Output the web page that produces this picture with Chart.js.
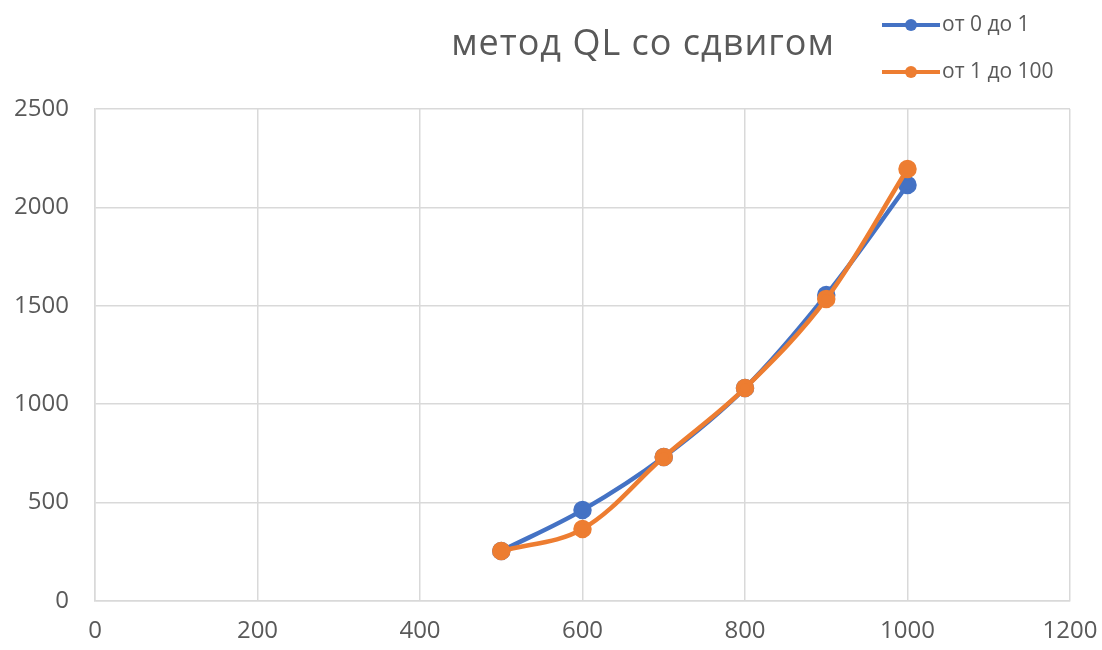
<!DOCTYPE html>
<html>
<head>
  <title>метод QL со сдвигом</title>
  <script src="https://cdn.jsdelivr.net/npm/chart.js"></script>
  <style>
    body { margin: 0; background: #ffffff; }
    #wrap { width: 1102px; height: 650px; position: relative; }
  </style>
</head>
<body>
  <div id="wrap"><canvas id="qlChart" width="1102" height="650"></canvas></div>
  <script>
    const sizes = [500, 600, 700, 800, 900, 1000];
    const range01 = [254, 462, 732, 1082, 1555, 2114];
    const range1to100 = [254, 366, 732, 1082, 1535, 2195];
    const seriesNames = ['от 0 до 1', 'от 1 до 100'];
    const chartTitle = 'метод QL со сдвигом';
    const xTicks = [0, 200, 400, 600, 800, 1000, 1200];
    const yTicks = [0, 500, 1000, 1500, 2000, 2500];

    const blue = '#4472C4';
    const orange = '#ED7D31';
    const grey = '#595959';

    function toPoints(xs, ys) {
      return xs.map((x, i) => ({ x: x, y: ys[i] }));
    }

    // title and stacked legend in the top right, like the Excel original
    const titleLegend = {
      id: 'titleLegend',
      afterDraw(chart) {
        const ctx = chart.ctx;
        ctx.save();
        ctx.fillStyle = grey;
        ctx.font = '36px "Open Sans", sans-serif';
        ctx.letterSpacing = '1px';
        ctx.textAlign = 'center';
        ctx.textBaseline = 'middle';
        ctx.fillText(chartTitle, 643, 45);
        ctx.letterSpacing = '0px';

        ctx.font = '21px "Open Sans", sans-serif';
        ctx.textAlign = 'left';
        chart.data.datasets.forEach((ds, i) => {
          const y = 25 + i * 47;
          ctx.strokeStyle = ds.borderColor;
          ctx.lineWidth = 4;
          ctx.beginPath();
          ctx.moveTo(882, y);
          ctx.lineTo(940, y);
          ctx.stroke();
          ctx.fillStyle = ds.backgroundColor;
          ctx.beginPath();
          ctx.arc(911, y, 6, 0, Math.PI * 2);
          ctx.fill();
          ctx.fillStyle = grey;
          ctx.fillText(ds.label, 942, y);
        });
        ctx.restore();
      }
    };

    new Chart(document.getElementById('qlChart'), {
      type: 'line',
      data: {
        datasets: [
          {
            label: seriesNames[0],
            data: toPoints(sizes, range01),
            borderColor: blue,
            backgroundColor: blue,
            borderWidth: 4.5,
            pointRadius: 7,
            tension: 0.35,
            order: 1
          },
          {
            label: seriesNames[1],
            data: toPoints(sizes, range1to100),
            borderColor: orange,
            backgroundColor: orange,
            borderWidth: 4.5,
            pointRadius: 7,
            tension: 0.35,
            order: 0
          }
        ]
      },
      options: {
        responsive: false,
        animation: false,
        layout: { padding: { top: 109, right: 32, left: 0, bottom: 0 } },
        plugins: {
          legend: { display: false },
          title: { display: false },
          tooltip: { enabled: false }
        },
        scales: {
          x: {
            type: 'linear',
            min: 0,
            max: 1200,
            afterBuildTicks: axis => { axis.ticks = xTicks.map(v => ({ value: v })); },
            grid: { color: '#d9d9d9', lineWidth: 1.5, drawTicks: false },
            border: { color: '#d9d9d9', width: 1.5 },
            ticks: {
              color: grey,
              font: { family: 'Open Sans', size: 24 },
              padding: 16,
              callback: v => String(v)
            },
            afterFit: axis => {
              axis.height = 49;
              axis.paddingLeft = 0;
              axis.paddingRight = 0;
            }
          },
          y: {
            min: 0,
            max: 2500,
            afterBuildTicks: axis => { axis.ticks = yTicks.map(v => ({ value: v })); },
            grid: { color: '#d9d9d9', lineWidth: 1.5, drawTicks: false },
            border: { color: '#d9d9d9', width: 1.5 },
            ticks: {
              color: grey,
              font: { family: 'Open Sans', size: 24 },
              padding: 26,
              callback: v => String(v)
            },
            afterFit: axis => {
              axis.width = 95;
              axis.paddingTop = 0;
              axis.paddingBottom = 0;
            }
          }
        }
      },
      plugins: [titleLegend]
    });
  </script>
</body>
</html>
